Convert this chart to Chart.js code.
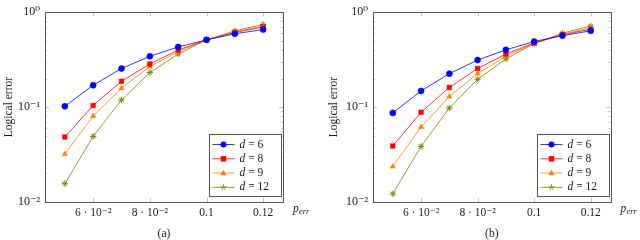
<!DOCTYPE html>
<html><head><meta charset="utf-8">
<script src="https://cdn.jsdelivr.net/npm/chart.js@4/dist/chart.umd.min.js"></script>
<style>body{margin:0;background:#fff}#wrap{display:flex;width:640px;height:240px}canvas{display:block}</style>
</head><body><div id="wrap"><canvas id="a" width="320" height="240"></canvas><canvas id="b" width="320" height="240"></canvas></div>
<script>
const pErr = [0.05, 0.06, 0.07, 0.08, 0.09, 0.10, 0.11, 0.12];
const xTicks = [0.06, 0.08, 0.1, 0.12];
const xTickLabels = ['6 · 10⁻²', '8 · 10⁻²', '0.1', '0.12'];
const yTicks = [0.01, 0.1, 1];
const yTickLabels = ['10⁻²', '10⁻¹', '10⁰'];
const dValues = ['6', '8', '9', '12'];
const yTitle = 'Logical error';
const captions = ['(a)', '(b)'];

const a_d6  = [0.102, 0.170, 0.255, 0.343, 0.430, 0.511, 0.593, 0.656];
const a_d8  = [0.0484, 0.104, 0.187, 0.285, 0.398, 0.511, 0.612, 0.698];
const a_d9  = [0.032, 0.0804, 0.158, 0.267, 0.383, 0.511, 0.621, 0.715];
const a_d12 = [0.0156, 0.0491, 0.119, 0.231, 0.362, 0.511, 0.636, 0.743];

const b_d6  = [0.0869, 0.148, 0.225, 0.313, 0.401, 0.491, 0.566, 0.636];
const b_d8  = [0.0389, 0.0883, 0.161, 0.255, 0.362, 0.473, 0.579, 0.661];
const b_d9  = [0.0236, 0.0616, 0.129, 0.225, 0.343, 0.469, 0.588, 0.682];
const b_d12 = [0.0122, 0.0386, 0.0977, 0.196, 0.3225, 0.466, 0.602, 0.715];

const colors = ['#0000ff', '#ff0000', '#ff8000', '#808000'];
const styles = ['circle', 'rect', 'triangle', 'star'];
const radii = [3, 3.2, 3, 3.2];
const FONT = '"Liberation Serif", "DejaVu Serif", serif';
const TXT = '#1a1a1a';

function drawMarker(ctx, style, color, x, y, r) {
  ctx.save();
  ctx.fillStyle = color; ctx.strokeStyle = color; ctx.lineWidth = 0.8;
  ctx.beginPath();
  if (style === 'circle') { ctx.arc(x, y, r, 0, Math.PI * 2); ctx.fill(); }
  else if (style === 'rect') { ctx.rect(x - r * 0.85, y - r * 0.85, 1.7 * r, 1.7 * r); ctx.fill(); }
  else if (style === 'triangle') {
    ctx.moveTo(x, y - r * 1.1); ctx.lineTo(x + r, y + r * 0.7); ctx.lineTo(x - r, y + r * 0.7); ctx.closePath(); ctx.fill();
  } else {
    for (let k = 0; k < 5; k++) {
      const a = -Math.PI / 2 + k * 2 * Math.PI / 5;
      ctx.moveTo(x, y); ctx.lineTo(x + r * Math.cos(a), y + r * Math.sin(a));
    }
    ctx.stroke();
  }
  ctx.restore();
}

function decor(caption) {
  return {
    id: 'decor',
    afterDraw(chart) {
      const ctx = chart.ctx, ca = chart.chartArea;
      const xs = chart.scales.x, ys = chart.scales.y;
      ctx.save();
      ctx.strokeStyle = '#b0b0b0'; ctx.lineWidth = 0.8;
      ctx.beginPath();
      xTicks.forEach(v => {
        const px = Math.round(xs.getPixelForValue(v)) + 0.5;
        ctx.moveTo(px, ca.top); ctx.lineTo(px, ca.top + 4);
        ctx.moveTo(px, ca.bottom); ctx.lineTo(px, ca.bottom - 4);
      });
      [0.01, 0.1].forEach(dec => {
        for (let k = 1; k <= 9; k++) {
          const py = Math.round(ys.getPixelForValue(dec * k)) + 0.5;
          const len = k === 1 ? 4 : 2;
          ctx.moveTo(ca.left, py); ctx.lineTo(ca.left + len, py);
          ctx.moveTo(ca.right, py); ctx.lineTo(ca.right - len, py);
        }
      });
      ctx.stroke();
      ctx.strokeStyle = '#555'; ctx.lineWidth = 1;
      ctx.strokeRect(Math.round(ca.left) + 0.5, Math.round(ca.top) + 0.5, Math.round(ca.right - ca.left), Math.round(ca.bottom - ca.top));
      ctx.fillStyle = TXT; ctx.textBaseline = 'alphabetic'; ctx.textAlign = 'left';
      ctx.font = 'italic 11.5px ' + FONT;
      const lx = ca.right + 10;
      ctx.fillText('p', lx, ca.bottom + 10);
      ctx.font = 'italic 8.5px ' + FONT;
      ctx.fillText('err', lx + 6, ca.bottom + 12);
      ctx.font = '11.5px ' + FONT; ctx.textAlign = 'center'; ctx.textBaseline = 'middle';
      ctx.fillText(caption, (ca.left + ca.right) / 2, 234);
      const bw = 72, bh = 62;
      const bx = Math.round(ca.right - 2 - bw) + 0.5, by = Math.round(ca.bottom - 6 - bh) + 0.5;
      ctx.fillStyle = '#fff'; ctx.fillRect(bx, by, bw, bh);
      ctx.strokeStyle = '#555'; ctx.lineWidth = 1; ctx.strokeRect(bx, by, bw, bh);
      dValues.forEach((d, i) => {
        const ry = by + 10 + i * 14.3;
        ctx.strokeStyle = colors[i]; ctx.lineWidth = 0.8;
        ctx.beginPath(); ctx.moveTo(bx + 3, ry); ctx.lineTo(bx + 25, ry); ctx.stroke();
        drawMarker(ctx, styles[i], colors[i], bx + 14, ry, radii[i]);
        ctx.fillStyle = TXT; ctx.textAlign = 'left'; ctx.textBaseline = 'middle';
        ctx.font = 'italic 11.5px ' + FONT;
        ctx.fillText('d', bx + 30, ry);
        const w = ctx.measureText('d').width;
        ctx.font = '11.5px ' + FONT;
        ctx.fillText(' = ' + d, bx + 30 + w, ry);
      });
      ctx.restore();
    }
  };
}

function makeChart(id, series, yWidth, rightPad, titlePad, caption) {
  new Chart(document.getElementById(id), {
    type: 'line',
    data: {
      datasets: series.map((vals, i) => ({
        label: 'd = ' + dValues[i],
        data: pErr.map((x, j) => ({ x: x, y: vals[j] })),
        borderColor: colors[i], backgroundColor: colors[i],
        pointStyle: styles[i], pointRadius: radii[i], pointHoverRadius: radii[i],
        pointBorderWidth: styles[i] === 'star' ? 1 : 0.6,
        borderWidth: 0.8, tension: 0, fill: false
      }))
    },
    options: {
      responsive: false, animation: false, devicePixelRatio: 1,
      layout: { padding: { top: 5, right: rightPad, bottom: 0, left: 0 } },
      plugins: { legend: { display: false }, tooltip: { enabled: false } },
      scales: {
        x: {
          type: 'linear', min: 0.043, max: 0.127,
          afterBuildTicks: s => { s.ticks = xTicks.map(v => ({ value: v })); },
          afterFit: s => { s.height = 38; },
          grid: { display: false, drawTicks: false },
          border: { display: false },
          ticks: { color: TXT, font: { family: FONT, size: 11.5 }, padding: 4, maxRotation: 0,
            callback: (v) => { const i = xTicks.findIndex(t => Math.abs(t - v) < 1e-9); return i >= 0 ? xTickLabels[i] : ''; } }
        },
        y: {
          type: 'logarithmic', min: 0.01, max: 1,
          afterBuildTicks: s => { s.ticks = yTicks.map(v => ({ value: v, major: true })); },
          afterFit: s => { s.width = yWidth; },
          grid: { display: false, drawTicks: false },
          border: { display: false },
          ticks: { color: TXT, font: { family: FONT, size: 12 }, padding: 5,
            callback: (v) => { const i = yTicks.findIndex(t => Math.abs(t - v) < 1e-9); return i >= 0 ? yTickLabels[i] : ''; } },
          title: { display: true, text: yTitle, color: TXT, font: { family: FONT, size: 11.5 }, padding: { top: titlePad, bottom: 0 } }
        }
      }
    },
    plugins: [decor(caption)]
  });
}

makeChart('a', [a_d6, a_d8, a_d9, a_d12], 45, 37, 2, captions[0]);
makeChart('b', [b_d6, b_d8, b_d9, b_d12], 53, 29.5, 7, captions[1]);
</script>
</body></html>
